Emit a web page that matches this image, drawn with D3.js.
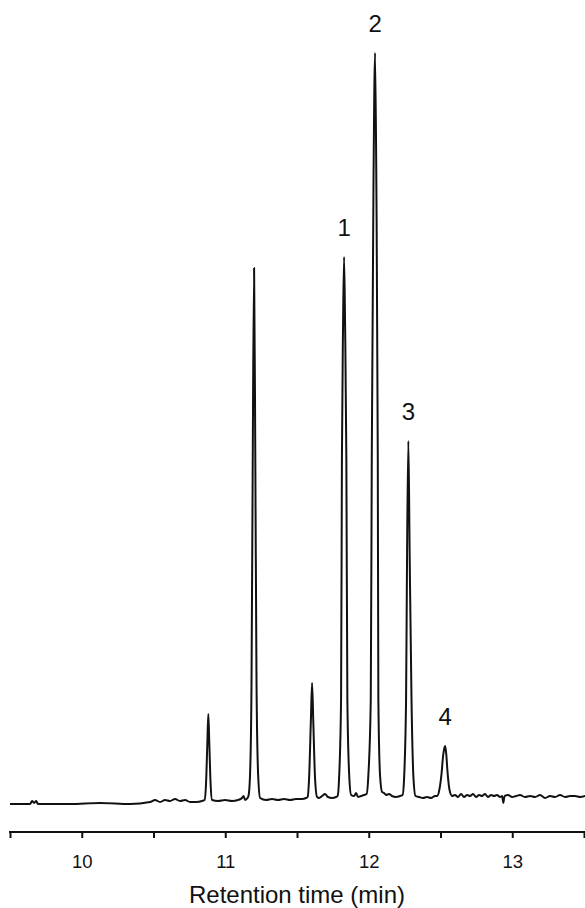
<!DOCTYPE html>
<html>
<head>
<meta charset="utf-8">
<script src="https://cdn.jsdelivr.net/npm/d3@7"></script>
<style>
  html, body { margin: 0; padding: 0; background: #fff; }
  svg { display: block; font-family: Arial, "Liberation Sans", sans-serif; }
</style>
</head>
<body>
<div id="chart"></div>
<script>
// retention time (min)
const rt = [
  9.500, 9.640, 9.654, 9.668, 9.682, 9.695, 9.918, 10.128, 10.337,
  10.476, 10.511, 10.546, 10.580, 10.615, 10.650, 10.685, 10.720, 10.755, 10.797, 10.838,
  10.856, 10.866, 10.875, 10.882, 10.889, 10.898, 10.908,
  10.950, 10.999, 11.047, 11.089, 11.117, 11.128, 11.138, 11.155,
  11.162, 11.173, 11.183, 11.191, 11.201, 11.210, 11.218, 11.229, 11.243,
  11.284, 11.326, 11.368, 11.410, 11.452, 11.493, 11.535, 11.563,
  11.574, 11.584, 11.597, 11.605, 11.613, 11.626, 11.640,
  11.654, 11.675, 11.695, 11.716, 11.744, 11.772,
  11.783, 11.793, 11.807, 11.813, 11.821, 11.828, 11.835, 11.844, 11.851, 11.865, 11.877,
  11.898, 11.912, 11.925, 11.946, 11.967, 11.985,
  11.997, 12.014, 12.021, 12.033, 12.044, 12.053, 12.063, 12.067, 12.079, 12.093,
  12.107, 12.121, 12.141, 12.162, 12.190, 12.218, 12.236,
  12.246, 12.260, 12.267, 12.276, 12.285, 12.298, 12.312, 12.326,
  12.351, 12.378, 12.406, 12.434, 12.462,
  12.476, 12.493, 12.507, 12.518, 12.527, 12.532, 12.540, 12.549, 12.563, 12.581,
  12.601, 12.622, 12.643, 12.664, 12.685, 12.706, 12.727, 12.748, 12.769, 12.789,
  12.810, 12.831, 12.852, 12.873, 12.894, 12.915, 12.929, 12.938, 12.946, 12.971,
  12.999, 13.027, 13.054, 13.089, 13.124, 13.159, 13.194, 13.229, 13.263, 13.298,
  13.333, 13.368, 13.403, 13.438, 13.473, 13.508
];

// detector signal (arbitrary units)
const signal = [
  0, 0, 3, 1, 3, 0, 0, 1, 0,
  2, 4, 2, 4, 3, 5, 3, 4, 2, 2, 3,
  4, 20, 60, 90, 60, 20, 4,
  3, 4, 3, 4, 6, 8, 4, 6,
  8, 30, 120, 330, 536, 330, 120, 30, 6,
  4, 5, 4, 5, 4, 5, 5, 6,
  7, 25, 85, 121, 85, 25, 7,
  6, 8, 10, 7, 6, 7,
  8, 25, 104, 344, 480, 547, 480, 344, 104, 25, 9,
  8, 11, 7, 8, 9, 10,
  28, 104, 344, 620, 751, 620, 344, 104, 28, 12,
  11, 9, 10, 8, 7, 8, 9,
  25, 104, 250, 363, 250, 104, 25, 8,
  7, 6, 7, 6, 8,
  8, 15, 30, 48, 56, 58, 50, 32, 14, 8,
  9, 7, 10, 7, 9, 8, 10, 7, 9, 8,
  10, 7, 9, 8, 9, 7, 8, 1, 8, 9,
  7, 8, 9, 7, 8, 7, 9, 6, 8, 7,
  9, 7, 8, 8, 7, 8
];

const peakLabels = ['1', '2', '3', '4'];
const peakTimes = [11.828, 12.044, 12.276, 12.532];

const xTicks = [9.5, 10, 10.5, 11, 11.5, 12, 12.5, 13, 13.5];

const width = 585, height = 908;

const svg = d3.select('#chart').append('svg')
  .attr('width', width)
  .attr('height', height);

const x = d3.scaleLinear().domain([9.5, 13.5]).range([10, 584]);
const y = d3.scaleLinear().domain([0, 751]).range([804, 53]);

const pts = rt.map((t, i) => [t, signal[i]]);

const line = d3.line()
  .x(d => x(d[0]))
  .y(d => y(d[1]))
  .curve(d3.curveMonotoneX);

svg.append('path')
  .datum(pts)
  .attr('fill', 'none')
  .attr('stroke', '#111')
  .attr('stroke-width', 2)
  .attr('stroke-linejoin', 'round')
  .attr('d', line);

// peak numbers above apex
peakLabels.forEach((lab, i) => {
  const near = pts.filter(p => Math.abs(p[0] - peakTimes[i]) < 0.02);
  const top = d3.max(near, p => p[1]);
  svg.append('text')
    .attr('x', x(peakTimes[i]))
    .attr('y', y(top) - 21)
    .attr('text-anchor', 'middle')
    .attr('font-size', 24)
    .attr('fill', '#111')
    .text(lab);
});

// x axis
const axis = d3.axisBottom(x)
  .tickValues(xTicks)
  .tickSize(6)
  .tickSizeOuter(0)
  .tickPadding(17)
  .tickFormat(d => Number.isInteger(d) ? d3.format('d')(d) : '');

const gx = svg.append('g')
  .attr('transform', 'translate(0,832)')
  .call(axis);

gx.select('.domain')
  .attr('stroke', '#111')
  .attr('stroke-width', 2)
  .attr('d', `M9,0H585`);
gx.selectAll('.tick line').attr('stroke', '#111').attr('stroke-width', 2);
gx.selectAll('.tick text')
  .attr('font-size', 18.5)
  .attr('font-family', 'Arial, "Liberation Sans", sans-serif')
  .attr('fill', '#111');

svg.append('text')
  .attr('x', 297)
  .attr('y', 903)
  .attr('text-anchor', 'middle')
  .attr('font-size', 24)
  .attr('fill', '#111')
  .text('Retention time (min)');
</script>
</body>
</html>
